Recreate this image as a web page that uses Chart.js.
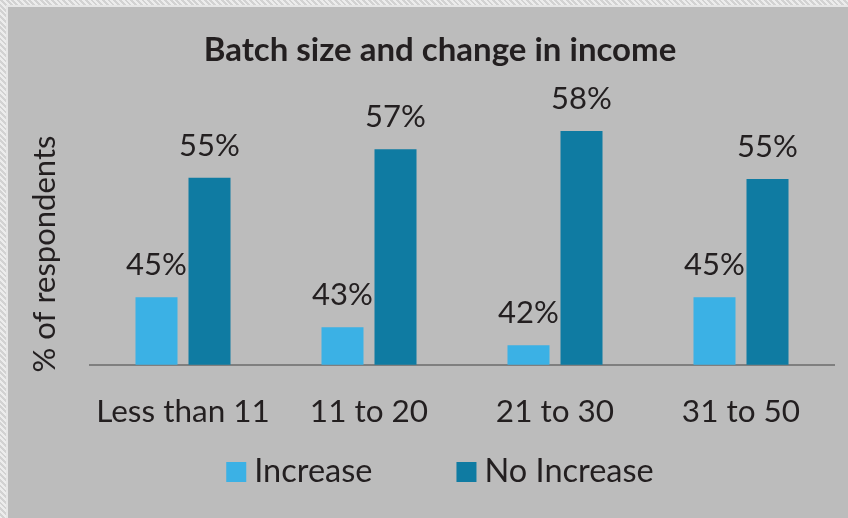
<!DOCTYPE html>
<html>
<head>
<meta charset="utf-8">
<title>Batch size and change in income</title>
<script src="https://cdn.jsdelivr.net/npm/chart.js@4.4.0/dist/chart.umd.min.js"></script>
<style>
    html, body { margin: 0; padding: 0; }
    body {
        width: 848px;
        height: 518px;
        overflow: hidden;
        position: relative;
        background: #dedede repeating-linear-gradient(45deg, #ececec 0 2px, #d2d2d2 2px 4px);
    }
    .frame {
        position: absolute;
        left: 6px; top: 5px; right: 0; bottom: 0;
        background: #bcbcbc;
        border-left: 2px solid #e6e6e6;
        border-top: 2px solid #e6e6e6;
    }
    #chart { position: absolute; left: 32px; top: 7px; }
</style>
</head>
<body>
<div class="frame"></div>
<canvas id="chart" width="816" height="511"></canvas>
<script>
const categories = ['Less than 11', '11 to 20', '21 to 30', '31 to 50'];
const seriesNames = ['Increase', 'No Increase'];
// bar heights (labels show the rounded value)
const increase = [45.4, 43.1, 41.7, 45.4];
const noIncrease = [54.6, 56.8, 58.2, 54.5];
const yAxisTitle = '% of respondents';
const chartTitle = 'Batch size and change in income';

const TEXT = '#231f20';
const FONT = 'Lato';

// タイトル（キャンバス中央）
const topTitle = {
    id: 'topTitle',
    afterDraw(chart) {
        const ctx = chart.ctx;
        ctx.save();
        ctx.font = `bold 33px ${FONT}`;
        ctx.fillStyle = TEXT;
        ctx.textAlign = 'center';
        ctx.textBaseline = 'alphabetic';
        ctx.fillText(chartTitle, chart.width / 2, 54);
        ctx.restore();
    }
};

// 値ラベル（棒の上）
const barLabels = {
    id: 'barLabels',
    afterDatasetsDraw(chart) {
        const ctx = chart.ctx;
        ctx.save();
        ctx.font = `31px ${FONT}`;
        ctx.fillStyle = TEXT;
        ctx.textAlign = 'center';
        ctx.textBaseline = 'alphabetic';
        chart.data.datasets.forEach((ds, i) => {
            chart.getDatasetMeta(i).data.forEach((bar, j) => {
                ctx.fillText(`${Math.round(ds.data[j])}%`, bar.x, bar.y - 22);
            });
        });
        ctx.restore();
    }
};

// 縦軸タイトル
const sideTitle = {
    id: 'sideTitle',
    afterDraw(chart) {
        const ctx = chart.ctx;
        ctx.save();
        ctx.translate(chart.chartArea.left - 45, 247);
        ctx.rotate(-Math.PI / 2);
        ctx.font = `31px ${FONT}`;
        ctx.fillStyle = TEXT;
        ctx.textAlign = 'center';
        ctx.textBaseline = 'middle';
        ctx.fillText(yAxisTitle, 0, 0);
        ctx.restore();
    }
};

// 凡例（下）
const bottomLegend = {
    id: 'bottomLegend',
    afterDraw(chart) {
        const ctx = chart.ctx;
        ctx.save();
        ctx.font = `32.5px ${FONT}`;
        const items = chart.data.datasets.map(ds => ({
            text: ds.label,
            color: ds.backgroundColor,
            w: ctx.measureText(ds.label).width
        }));
        const box = 20, gap = 8, spacing = 84;
        const total = items.reduce((s, it) => s + box + gap + it.w, 0) + spacing * (items.length - 1);
        let x = (chart.width - total) / 2;
        const y = 465;
        items.forEach(it => {
            ctx.fillStyle = it.color;
            ctx.fillRect(x, y - box / 2, box, box);
            ctx.fillStyle = TEXT;
            ctx.textAlign = 'left';
            ctx.textBaseline = 'middle';
            ctx.fillText(it.text, x + box + gap, y);
            x += box + gap + it.w + spacing;
        });
        ctx.restore();
    }
};

new Chart(document.getElementById('chart').getContext('2d'), {
    type: 'bar',
    data: {
        labels: categories,
        datasets: [
            { label: seriesNames[0], data: increase, backgroundColor: '#3bb1e5' },
            { label: seriesNames[1], data: noIncrease, backgroundColor: '#0f7ba2' }
        ]
    },
    options: {
        responsive: false,
        animation: false,
        devicePixelRatio: 1,
        datasets: {
            bar: { categoryPercentage: 0.57, barPercentage: 0.7925, borderWidth: 0 }
        },
        layout: { padding: { left: 58, right: 14, top: 100.6, bottom: 59.4 } },
        plugins: {
            legend: { display: false },
            tooltip: { enabled: false },
            title: { display: false }
        },
        scales: {
            x: {
                grid: { display: false, drawTicks: false },
                border: { color: '#7f7f7f', width: 2 },
                ticks: {
                    color: TEXT,
                    font: { family: FONT, size: 31.5, lineHeight: 1.2 },
                    padding: 28,
                    maxRotation: 0,
                    autoSkip: false
                }
            },
            y: { display: false, min: 40.2, max: 60 }
        }
    },
    plugins: [topTitle, barLabels, sideTitle, bottomLegend]
});
</script>
</body>
</html>
